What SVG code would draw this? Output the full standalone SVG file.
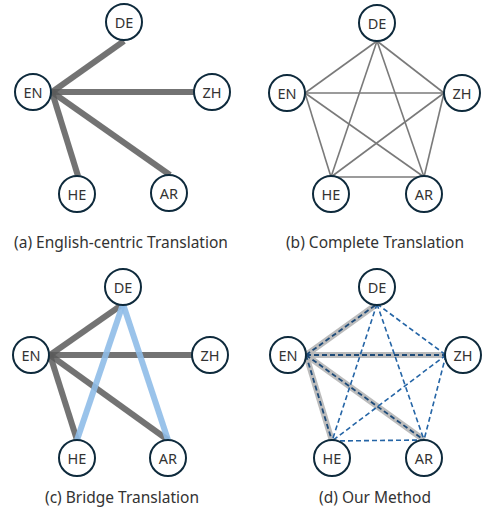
<svg xmlns="http://www.w3.org/2000/svg" width="485" height="512" viewBox="0 0 485 512">
<style>
.node circle{fill:#fff;stroke:#0e2a3c;stroke-width:2}
.node text{font-family:"Noto Sans","Liberation Sans",sans-serif;font-size:14.5px;fill:#333;text-anchor:middle;dominant-baseline:central}
.cap{font-family:"Noto Sans","Liberation Sans",sans-serif;font-size:15.5px;fill:#333;text-anchor:middle}
.thick{stroke:#5a5a5a;stroke-opacity:0.85;stroke-width:6;fill:none}
.thin{stroke:#7a7a7a;stroke-width:1.6;fill:none}
.blue{stroke:#8fbde8;stroke-opacity:0.9;stroke-width:6;fill:none}
.hl{stroke:#b5b5b5;stroke-opacity:0.9;stroke-width:6;fill:none}
.dash{stroke:#2565a6;stroke-width:1.6;stroke-dasharray:5 3;fill:none}
.dashd{stroke:#1d4a78;stroke-width:1.8;stroke-dasharray:5 3;fill:none}
</style>
<rect width="485" height="512" fill="#fff"/>
<g id="connectors">
<g id="conn-a">
<line class="thick" x1="52" y1="92" x2="124" y2="41"/>
<line class="thick" x1="52" y1="92" x2="196" y2="92"/>
<line class="thick" x1="52" y1="92" x2="78" y2="176"/>
<line class="thick" x1="52" y1="92" x2="170" y2="175"/>
</g>
<g id="conn-b">
<line class="thin" x1="377" y1="41" x2="305" y2="93"/>
<line class="thin" x1="377" y1="41" x2="444" y2="93"/>
<line class="thin" x1="377" y1="41" x2="331" y2="177"/>
<line class="thin" x1="377" y1="41" x2="424" y2="177"/>
<line class="thin" x1="305" y1="93" x2="444" y2="93"/>
<line class="thin" x1="305" y1="93" x2="331" y2="177"/>
<line class="thin" x1="305" y1="93" x2="424" y2="177"/>
<line class="thin" x1="444" y1="93" x2="331" y2="177"/>
<line class="thin" x1="444" y1="93" x2="424" y2="177"/>
<line class="thin" x1="331" y1="177" x2="424" y2="177"/>
</g>
<g id="conn-c">
<line class="thick" x1="50" y1="355" x2="123" y2="304"/>
<line class="thick" x1="50" y1="355" x2="194" y2="355"/>
<line class="thick" x1="50" y1="355" x2="77" y2="440"/>
<line class="thick" x1="50" y1="355" x2="168" y2="440"/>
<line class="blue" x1="123" y1="304" x2="77" y2="440"/>
<line class="blue" x1="123" y1="304" x2="168" y2="440"/>
</g>
<g id="conn-d">
<line class="hl" x1="306" y1="355" x2="377" y2="304"/>
<line class="hl" x1="306" y1="355" x2="446" y2="355"/>
<line class="hl" x1="306" y1="355" x2="332" y2="441"/>
<line class="hl" x1="306" y1="355" x2="424" y2="440"/>
<line class="dashd" x1="306" y1="355" x2="377" y2="304"/>
<line class="dashd" x1="306" y1="355" x2="446" y2="355"/>
<line class="dashd" x1="306" y1="355" x2="332" y2="441"/>
<line class="dashd" x1="306" y1="355" x2="424" y2="440"/>
<line class="dash" x1="377" y1="304" x2="446" y2="355"/>
<line class="dash" x1="377" y1="304" x2="332" y2="441"/>
<line class="dash" x1="377" y1="304" x2="424" y2="440"/>
<line class="dash" x1="446" y1="355" x2="332" y2="441"/>
<line class="dash" x1="446" y1="355" x2="424" y2="440"/>
<line class="dash" x1="332" y1="441" x2="424" y2="440"/>
</g>
</g>
<g id="a-DE" class="node"><circle cx="124" cy="22" r="18"/><text x="124" y="22">DE</text></g>
<g id="a-EN" class="node"><circle cx="33" cy="92" r="18"/><text x="33" y="92">EN</text></g>
<g id="a-ZH" class="node"><circle cx="212" cy="92" r="18"/><text x="212" y="92">ZH</text></g>
<g id="a-HE" class="node"><circle cx="77" cy="194" r="18"/><text x="77" y="194">HE</text></g>
<g id="a-AR" class="node"><circle cx="169" cy="193" r="18"/><text x="169" y="193">AR</text></g>
<g id="b-DE" class="node"><circle cx="377" cy="23" r="18"/><text x="377" y="23">DE</text></g>
<g id="b-EN" class="node"><circle cx="287" cy="93" r="18"/><text x="287" y="93">EN</text></g>
<g id="b-ZH" class="node"><circle cx="462" cy="93" r="18"/><text x="462" y="93">ZH</text></g>
<g id="b-HE" class="node"><circle cx="331" cy="194" r="18"/><text x="331" y="194">HE</text></g>
<g id="b-AR" class="node"><circle cx="424" cy="194" r="18"/><text x="424" y="194">AR</text></g>
<g id="c-DE" class="node"><circle cx="123" cy="287" r="18"/><text x="123" y="287">DE</text></g>
<g id="c-EN" class="node"><circle cx="31" cy="355" r="18"/><text x="31" y="355">EN</text></g>
<g id="c-ZH" class="node"><circle cx="210" cy="355" r="18"/><text x="210" y="355">ZH</text></g>
<g id="c-HE" class="node"><circle cx="77" cy="458" r="18"/><text x="77" y="458">HE</text></g>
<g id="c-AR" class="node"><circle cx="168" cy="458" r="18"/><text x="168" y="458">AR</text></g>
<g id="d-DE" class="node"><circle cx="377" cy="287" r="18"/><text x="377" y="287">DE</text></g>
<g id="d-EN" class="node"><circle cx="288" cy="355" r="18"/><text x="288" y="355">EN</text></g>
<g id="d-ZH" class="node"><circle cx="463" cy="355" r="18"/><text x="463" y="355">ZH</text></g>
<g id="d-HE" class="node"><circle cx="332" cy="458" r="18"/><text x="332" y="458">HE</text></g>
<g id="d-AR" class="node"><circle cx="424" cy="458" r="18"/><text x="424" y="458">AR</text></g>
<text class="cap" x="121" y="248">(a) English-centric Translation</text>
<text class="cap" x="375" y="248">(b) Complete Translation</text>
<text class="cap" x="122" y="503">(c) Bridge Translation</text>
<text class="cap" x="375" y="503">(d) Our Method</text>
</svg>
